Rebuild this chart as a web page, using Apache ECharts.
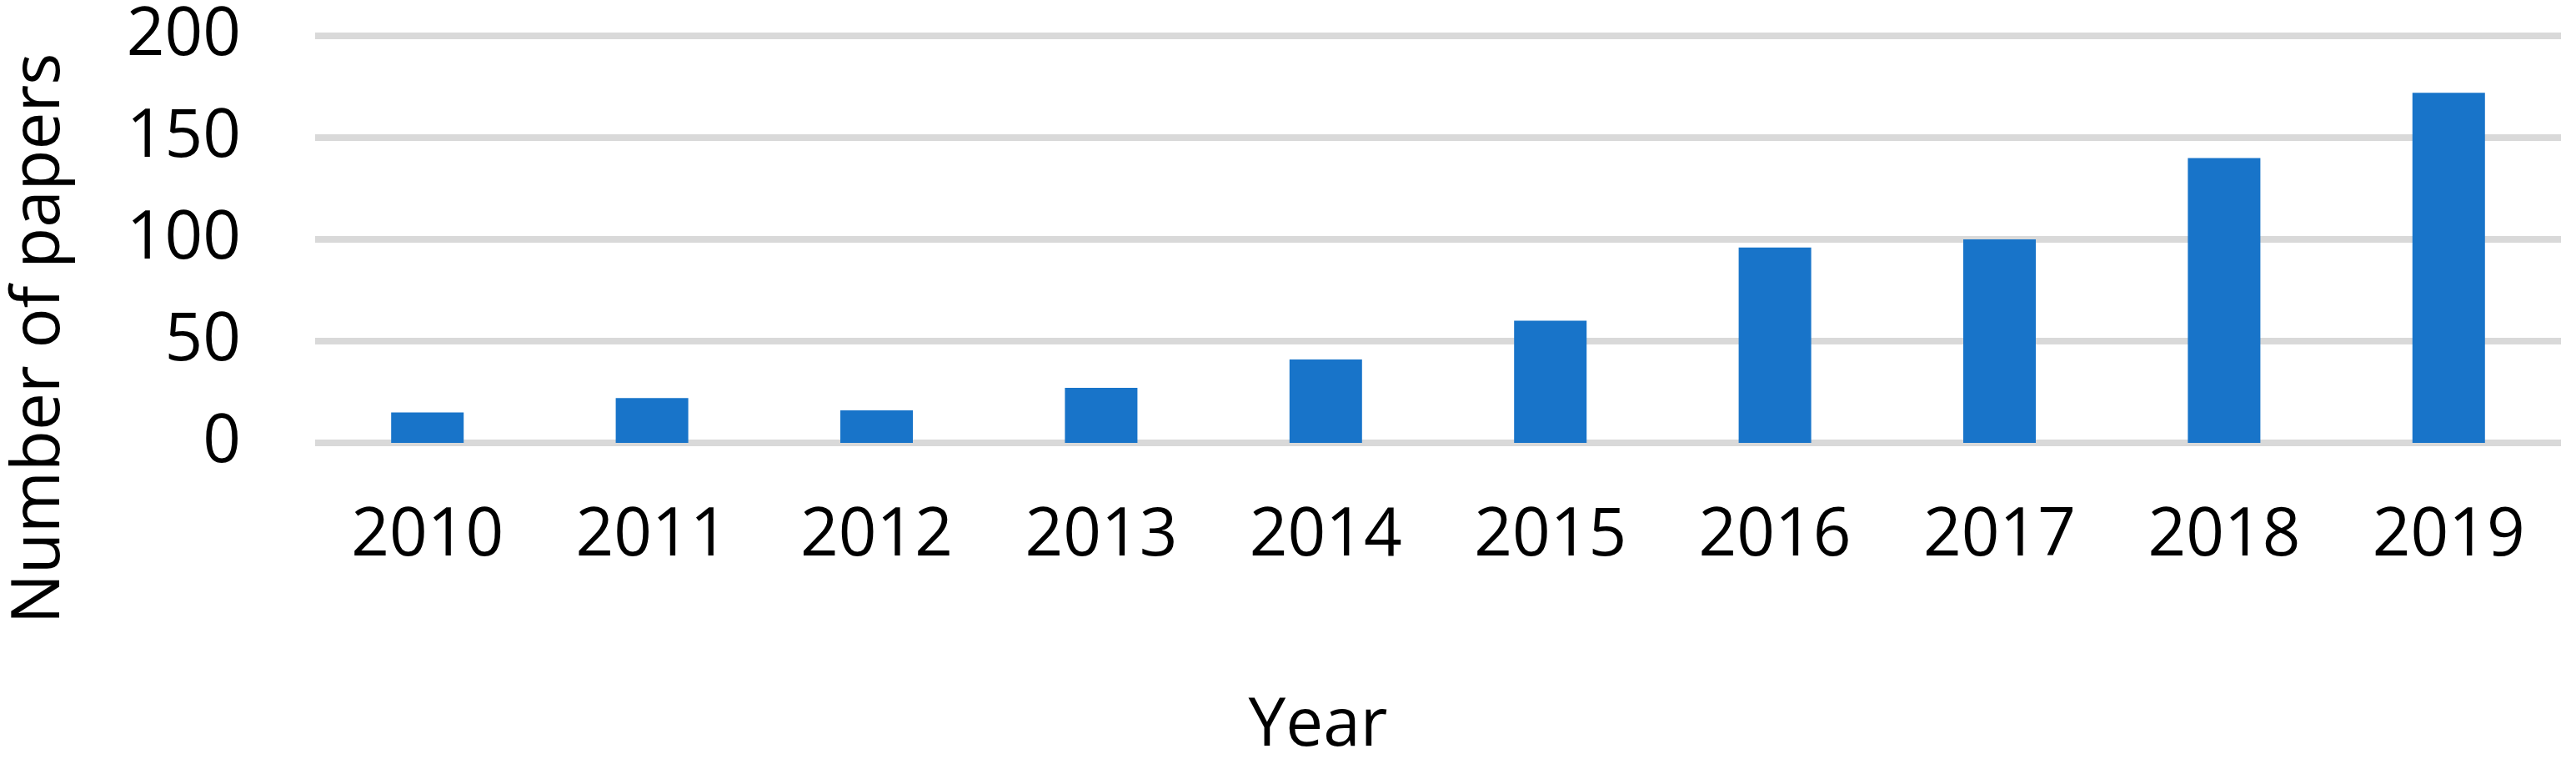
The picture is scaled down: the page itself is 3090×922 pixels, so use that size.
<!DOCTYPE html>
<html>
<head>
<meta charset="utf-8">
<title>Number of papers per year</title>
<script src="https://cdn.jsdelivr.net/npm/echarts@6/dist/echarts.min.js"></script>
<style>
  html, body { margin: 0; padding: 0; background: #fff; }
  #chart { width: 3090px; height: 922px; }
</style>
</head>
<body>
<div id="chart"></div>
<script>
// 年份
const years = ['2010', '2011', '2012', '2013', '2014', '2015', '2016', '2017', '2018', '2019'];
// 每年论文数量
const papers = [15, 22, 16, 27, 41, 60, 96, 100, 140, 172];
// y轴刻度
const y_ticks = [0, 50, 100, 150, 200];

const font = '"Open Sans", "Noto Sans", sans-serif';

let chart = echarts.init(document.getElementById('chart'), null, {renderer: 'canvas'});

let option = {
    animation: false,
    backgroundColor: '#ffffff',
    grid: {
        left: 352,
        right: 18,
        top: 43,
        bottom: 391
    },
    xAxis: {
        type: 'category',
        data: years,
        axisLine: {show: false},
        axisTick: {show: false},
        axisLabel: {
            color: '#000',
            fontFamily: font,
            fontSize: 80,
            margin: 72
        },
        name: 'Year',
        nameLocation: 'middle',
        nameGap: 300,
        nameTextStyle: {
            color: '#000',
            fontFamily: font,
            fontSize: 80,
            padding: [0, 288, 0, 0]
        }
    },
    yAxis: {
        type: 'value',
        min: y_ticks[0],
        max: y_ticks[y_ticks.length - 1],
        interval: 50,
        axisLine: {show: false},
        axisTick: {show: false},
        splitLine: {
            lineStyle: {color: '#d9d9d9', width: 8}
        },
        axisLabel: {
            color: '#000',
            fontFamily: font,
            fontSize: 80,
            margin: 89
        },
        name: 'Number of papers',
        nameLocation: 'middle',
        nameRotate: 90,
        nameGap: 290,
        nameTextStyle: {
            color: '#000',
            fontFamily: font,
            fontSize: 80,
            padding: [0, 238, 0, 0]
        }
    },
    series: [{
        type: 'bar',
        data: papers,
        barWidth: 87,
        itemStyle: {color: '#1874c9'}
    }]
};

chart.setOption(option);
</script>
</body>
</html>
